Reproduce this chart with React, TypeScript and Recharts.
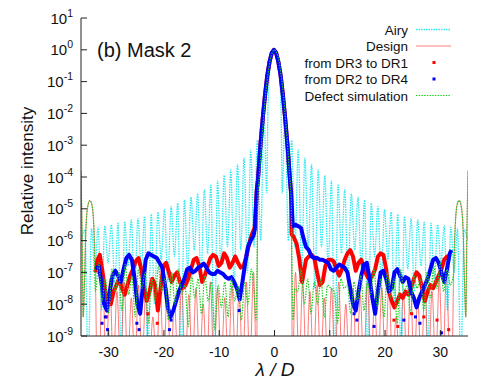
import { ComposedChart, Line, Scatter, XAxis, YAxis } from 'recharts';

const FONT = '"Liberation Sans", Arial, Helvetica, sans-serif';

const xTicks = [-30, -20, -10, 0, 10, 20, 30];
const yTicks = [1e-9, 1e-8, 1e-7, 1e-6, 1e-5, 1e-4, 1e-3, 1e-2, 1e-1, 1, 10];

const legendLabels = ['Airy', 'Design', 'from DR3 to DR1', 'from DR2 to DR4', 'Defect simulation'];

// all values below are [lambda/D, log10(relative intensity)]

// Airy pattern, x >= 0 (symmetric)
const airyHalf: [number, number][] = [
  [0, 0], [0.5, -0.2], [0.9, -0.8], [1.2, -2.0], [1.4, -4.5], [1.9, -1.9], [2.5, -6.0],
  [3.1, -2.85], [3.7, -6.2], [4.3, -3.15], [4.9, -7.0], [5.5, -3.4], [6.1, -6.3],
  [6.7, -3.6], [7.3, -7.5], [7.9, -3.78], [8.5, -6.2], [9.1, -3.95], [9.7, -6.8],
  [10.3, -4.12], [10.9, -10], [11.5, -4.25], [12.1, -6.4], [12.7, -4.4], [13.3, -7.2],
  [13.9, -4.52], [14.5, -6.3], [15.1, -4.63], [15.7, -6.9], [16.3, -4.72], [16.9, -10],
  [17.5, -4.82], [18.1, -6.5], [18.7, -4.93], [19.3, -7.3], [19.9, -5.02], [20.5, -6.6],
  [21.1, -5.1], [21.7, -8.0], [22.3, -5.17], [22.9, -10], [23.5, -5.24], [24.1, -6.9],
  [24.7, -5.3], [25.3, -7.6], [25.9, -5.35], [26.5, -6.8], [27.1, -5.4], [27.7, -10],
  [28.3, -5.45], [28.9, -7.3], [29.5, -5.5], [30.1, -6.7], [30.7, -5.54], [31.3, -8.2],
  [31.9, -5.58], [32.5, -7.0], [33.1, -5.62], [33.7, -10], [34.3, -5.66], [35, -6.0],
];

// Design PSF, x >= 0 (symmetric)
const designHalf: [number, number][] = [
  [0, 0], [0.4, -0.09], [0.8, -0.35], [1.2, -0.8], [1.6, -1.4], [2.0, -2.2], [2.4, -3.1],
  [2.7, -3.9], [3.0, -4.6], [3.25, -10], [3.8, -7.0], [4.45, -10], [5.1, -7.3], [5.75, -10],
  [6.4, -7.6], [7.05, -10], [7.7, -7.4], [8.35, -10], [9.0, -7.8], [9.65, -10], [10.3, -7.5],
  [10.95, -10], [11.6, -7.3], [12.25, -10], [12.9, -8.0], [13.55, -10], [14.2, -7.5],
  [14.85, -10], [15.5, -7.7], [16.15, -10], [16.8, -7.3], [17.45, -10], [18.1, -7.9],
  [18.75, -10], [19.4, -7.5], [20.05, -10], [20.7, -7.3], [21.35, -10], [22.0, -8.4],
  [22.65, -10], [23.3, -7.6], [23.95, -10], [24.6, -7.4], [25.25, -10], [25.9, -7.8],
  [26.55, -10], [27.2, -7.3], [27.85, -10], [28.5, -7.6], [29.15, -10], [29.8, -7.2],
  [30.45, -10], [31.1, -7.0], [31.75, -10], [32.1, -10], [32.4, -7.0], [32.7, -5.5],
  [33.0, -4.9], [33.4, -4.74], [33.8, -4.95], [34.1, -5.6], [34.4, -7.5], [34.6, -8.4],
  [34.8, -5.8], [35.0, -3.8],
];

// main lobe common to both measurements
const measuredCore: [number, number][] = [
  [-3.2, -4.4], [-3.0, -4.1], [-2.8, -3.6], [-2.5, -2.9], [-2.1, -2.1], [-1.7, -1.4],
  [-1.3, -0.8], [-0.9, -0.38], [-0.5, -0.1], [-0.1, 0], [0.3, -0.1], [0.7, -0.38],
  [1.1, -0.8], [1.5, -1.4], [1.9, -2.1], [2.3, -2.9], [2.6, -3.6], [2.8, -4.1], [3.0, -4.5],
];

const redLeft: [number, number][] = [
  [-32.4, -7.0], [-32.0, -6.6], [-31.6, -6.45], [-31.1, -7.0], [-30.6, -7.6], [-30.1, -7.9],
  [-29.6, -8.0], [-29.1, -7.6], [-28.6, -7.4], [-28.1, -7.2], [-27.6, -7.5], [-27.1, -7.7],
  [-26.6, -7.4], [-26.1, -7.1], [-25.6, -6.9], [-25.1, -6.65], [-24.6, -6.55], [-24.1, -6.9],
  [-23.6, -7.5], [-23.1, -7.9], [-22.6, -7.6], [-22.1, -7.2], [-21.6, -7.4], [-21.1, -8.2],
  [-20.6, -7.5], [-20.1, -6.8], [-19.6, -6.7], [-19.1, -7.0], [-18.6, -7.3], [-18.1, -7.1],
  [-17.6, -7.0], [-17.1, -7.3], [-16.6, -7.5], [-16.1, -7.4], [-15.6, -7.2], [-15.1, -6.9],
  [-14.6, -6.6], [-14.1, -6.55], [-13.6, -6.8], [-13.1, -7.3], [-12.6, -7.1], [-12.1, -6.8],
  [-11.6, -6.55], [-11.1, -6.45], [-10.6, -6.5], [-10.1, -6.8], [-9.6, -6.7], [-9.1, -6.4],
  [-8.6, -6.55], [-8.1, -6.85], [-7.6, -6.7], [-7.1, -6.5], [-6.6, -6.7], [-6.1, -6.85],
  [-5.6, -6.8], [-5.1, -6.5], [-4.6, -6.1], [-4.1, -5.8], [-3.6, -5.6],
];

const redRight: [number, number][] = [
  [3.1, -5.8], [3.5, -5.9], [4.0, -6.1], [4.5, -6.6], [5.0, -7.3], [5.3, -7.0], [5.7, -6.6],
  [6.2, -6.5], [6.7, -6.45], [7.2, -6.55], [7.7, -7.0], [8.2, -7.4], [8.7, -7.3], [9.2, -6.8],
  [9.7, -6.6], [10.2, -6.6], [10.7, -6.65], [11.2, -6.9], [11.7, -7.1], [12.2, -6.9],
  [12.7, -6.6], [13.2, -6.4], [13.7, -6.3], [14.2, -6.5], [14.7, -6.95], [15.2, -6.7],
  [15.7, -6.6], [16.2, -6.9], [16.7, -7.1], [17.2, -7.25], [17.7, -7.1], [18.2, -6.9],
  [18.7, -6.5], [19.2, -6.4], [19.7, -6.45], [20.2, -6.9], [20.7, -7.6], [21.2, -7.9],
  [21.7, -8.1], [22.2, -7.9], [22.7, -7.7], [23.2, -7.8], [23.7, -7.6], [24.2, -7.7],
  [24.7, -7.5], [25.2, -7.2], [25.7, -7.0], [26.2, -7.1], [26.7, -7.5], [27.2, -7.9],
  [27.7, -7.6], [28.2, -7.4], [28.7, -7.5], [29.2, -7.3], [29.7, -7.1], [30.2, -6.9],
  [30.7, -6.6], [31.2, -6.5], [31.7, -6.5],
];

const blueLeft: [number, number][] = [
  [-32.3, -6.9], [-31.8, -6.8], [-31.3, -7.3], [-30.8, -8.0], [-30.3, -8.2], [-29.8, -7.6],
  [-29.3, -7.1], [-28.8, -6.95], [-28.3, -7.1], [-27.8, -7.3], [-27.3, -6.9], [-26.8, -6.55],
  [-26.3, -6.45], [-25.8, -6.6], [-25.3, -7.2], [-24.8, -8.0], [-24.3, -8.3], [-23.8, -7.4],
  [-23.3, -6.6], [-22.8, -6.4], [-22.3, -6.45], [-21.8, -6.5], [-21.3, -6.55], [-20.8, -6.7],
  [-20.3, -6.85], [-19.8, -7.4], [-19.3, -8.1], [-18.8, -8.4], [-18.3, -8.2], [-17.8, -7.9],
  [-17.3, -7.6], [-16.8, -7.4], [-16.3, -7.2], [-15.8, -6.9], [-15.3, -6.85], [-14.8, -7.0],
  [-14.3, -6.95], [-13.8, -6.85], [-13.3, -6.8], [-12.8, -6.72], [-12.3, -6.85], [-11.8, -7.0],
  [-11.3, -7.05], [-10.8, -7.05], [-10.3, -6.95], [-9.8, -7.0], [-9.3, -7.05], [-8.8, -7.15],
  [-8.3, -7.2], [-7.8, -7.15], [-7.3, -7.3], [-6.8, -7.5], [-6.3, -7.85], [-5.8, -7.3],
  [-5.3, -6.7], [-4.8, -6.2], [-4.3, -6.0], [-3.8, -5.85], [-3.5, -5.6],
];

const blueRight: [number, number][] = [
  [3.3, -5.55], [3.8, -5.5], [4.3, -5.55], [4.8, -5.6], [5.2, -5.9], [5.7, -6.2], [6.2, -6.3],
  [6.7, -6.5], [7.2, -6.55], [7.7, -6.55], [8.2, -6.6], [8.7, -6.6], [9.2, -6.65], [9.7, -6.7],
  [10.2, -6.9], [10.7, -6.95], [11.2, -6.85], [11.7, -6.75], [12.2, -6.8], [12.7, -6.85],
  [13.2, -7.0], [13.7, -7.5], [14.2, -8.0], [14.7, -8.2], [15.2, -7.6], [15.7, -7.1],
  [16.2, -6.75], [16.7, -6.7], [17.2, -7.2], [17.7, -7.8], [18.2, -8.3], [18.7, -7.6],
  [19.2, -7.0], [19.7, -6.95], [20.2, -7.2], [20.7, -7.6], [21.2, -7.5], [21.7, -7.0],
  [22.2, -6.9], [22.7, -7.1], [23.2, -7.3], [23.7, -7.15], [24.2, -7.2], [24.7, -7.6],
  [25.2, -7.8], [25.7, -8.1], [26.2, -7.8], [26.7, -7.6], [27.2, -7.4], [27.7, -7.2],
  [28.2, -6.9], [28.7, -6.6], [29.2, -6.55], [29.7, -6.7], [30.2, -7.0], [30.7, -7.3],
  [31.2, -6.9], [31.7, -6.4], [32.0, -6.3],
];

const redStray: [number, number][] = [
  [-30.4, -8.4], [-22.9, -8.3], [-21.2, -8.6], [21.6, -8.5], [22.3, -8.7], [24.8, -8.3],
  [27.0, -8.4], [29.4, -8.5], [31.5, -8.8],
];

const blueStray: [number, number][] = [
  [-31.2, -8.6], [-30.6, -8.4], [-30.2, -8.8], [-24.9, -8.6], [-24.5, -8.8], [-19.0, -8.8],
  [-18.7, -8.5], [-6.4, -8.2], [14.4, -8.3], [14.9, -8.5], [18.0, -8.7], [23.4, -8.5],
  [25.5, -8.4], [26.3, -8.6], [30.2, -8.9],
];

const defectLeft: [number, number][] = [
  [-35.0, -3.8], [-34.8, -5.8], [-34.6, -8.4], [-34.4, -7.5], [-34.1, -5.6], [-33.8, -4.95],
  [-33.4, -4.74], [-33.0, -4.9], [-32.7, -5.5], [-32.4, -7.6], [-31.8, -6.7], [-31.2, -7.9],
  [-30.6, -7.2], [-30.0, -8.3], [-29.4, -6.9], [-28.8, -7.6], [-28.2, -7.0], [-27.6, -8.2],
  [-27.0, -6.75], [-26.4, -7.7], [-25.8, -7.1], [-25.2, -8.4], [-24.6, -6.9], [-24.0, -7.5],
  [-23.4, -7.0], [-22.8, -8.6], [-22.2, -7.2], [-21.6, -7.9], [-21.0, -6.8], [-20.4, -7.6],
  [-19.8, -7.2], [-19.2, -8.5], [-18.6, -7.0], [-18.0, -8.0], [-17.4, -6.9], [-16.8, -7.7],
  [-16.2, -7.4], [-15.6, -8.7], [-15.0, -7.1], [-14.4, -7.8], [-13.8, -7.2], [-13.2, -8.3],
  [-12.6, -7.1], [-12.0, -7.9], [-11.4, -7.3], [-10.8, -8.8], [-10.2, -7.4], [-9.6, -8.1],
  [-9.0, -7.3], [-8.4, -8.4], [-7.8, -7.2], [-7.2, -7.9], [-6.6, -7.4], [-6.0, -8.5],
  [-5.4, -7.3], [-4.8, -8.0], [-4.2, -6.9], [-3.7, -7.6], [-3.35, -8.5],
];

const defectRight: [number, number][] = [
  [3.35, -8.5], [3.7, -7.5], [4.2, -7.6], [4.8, -6.9], [5.4, -8.0], [6.0, -7.2], [6.6, -8.3],
  [7.2, -7.3], [7.8, -8.0], [8.4, -7.2], [9.0, -8.4], [9.6, -7.4], [10.2, -7.5], [10.8, -7.6],
  [11.4, -8.6], [12.0, -7.2], [12.6, -7.5], [13.2, -7.4], [13.8, -8.3], [14.4, -7.3],
  [15.0, -7.9], [15.6, -7.1], [16.2, -8.2], [16.8, -7.3], [17.4, -7.7], [18.0, -6.9],
  [18.6, -8.1], [19.2, -7.2], [19.8, -8.4], [20.4, -7.0], [21.0, -7.8], [21.6, -7.2],
  [22.2, -8.6], [22.8, -6.9], [23.4, -7.6], [24.0, -7.4], [24.6, -8.3], [25.2, -7.1],
  [25.8, -7.5], [26.4, -7.2], [27.0, -8.2], [27.6, -7.0], [28.2, -7.8], [28.8, -6.8],
  [29.4, -7.5], [30.0, -6.7], [30.6, -7.6], [31.2, -6.9], [31.8, -7.4], [32.4, -7.0],
  [32.7, -5.5], [33.0, -4.9], [33.4, -4.74], [33.8, -4.95], [34.1, -5.6], [34.4, -7.5],
  [34.6, -8.4], [34.8, -5.8], [35.0, -3.8],
];

type Pair = [number, number];
const mirror = (half: Pair[]): Pair[] => [
  ...half.filter(([x]) => x > 0).map(([x, l]) => [-x, l] as Pair).reverse(),
  ...half,
];
const toPts = (pairs: Pair[]) => pairs.map(([x, l]) => ({ x, y: Math.pow(10, l) }));

const airyData = toPts(mirror(airyHalf));
const designData = toPts(mirror(designHalf));
const redData = toPts([...redLeft, ...measuredCore, ...redRight]);
const blueData = toPts([...blueLeft, ...measuredCore, ...blueRight]);
const defectCore = designHalf.filter(([x]) => x <= 3.0);
const defectData = toPts([...defectLeft, ...mirror(defectCore), ...defectRight]);
const redStrayData = toPts(redStray);
const blueStrayData = toPts(blueStray);

const COLORS = {
  airy: '#2ee8f0',
  design: '#ff3a3a',
  red: '#ff0000',
  blue: '#0000ff',
  defect: '#1fcc1f',
};

function BottomTick({ x, y, payload }: any) {
  return (
    <g>
      <line x1={x} x2={x} y1={y} y2={y - 6} stroke="#222" />
      <text x={x} y={y + 21} textAnchor="middle" fontSize={14} fontFamily={FONT} fill="#111">
        {payload.value}
      </text>
    </g>
  );
}

function TopTick({ x, y }: any) {
  return <line x1={x} x2={x} y1={y} y2={y + 6} stroke="#222" />;
}

function LeftTick({ x, y, payload }: any) {
  const exp = Math.round(Math.log10(payload.value));
  return (
    <g>
      <line x1={x} x2={x + 6} y1={y} y2={y} stroke="#222" />
      <text x={x - 8} y={y + 5.5} textAnchor="end" fontSize={15} fontFamily={FONT} fill="#111">
        10<tspan dy={-7} fontSize={10.5}>{exp}</tspan>
      </text>
    </g>
  );
}

function RightTick({ x, y }: any) {
  return <line x1={x} x2={x - 6} y1={y} y2={y} stroke="#222" />;
}

function Square({ cx, cy, fill }: any) {
  if (cx === undefined || cy === undefined) return null;
  return <rect x={cx - 1.5} y={cy - 1.5} width={3} height={3} fill={fill} />;
}

export default function App() {
  const rowY = [29.5, 46, 62.5, 79, 95.5];
  return (
    <div style={{ position: 'absolute', left: 0, top: 0, width: 491, height: 382, background: '#fff' }}>
      <ComposedChart width={491} height={382} margin={{ top: 18, right: 23, bottom: 0, left: 0 }}>
        <XAxis
          dataKey="x"
          type="number"
          domain={[-35, 35]}
          ticks={xTicks}
          interval={0}
          allowDataOverflow
          height={46}
          tickSize={0}
          tickMargin={0}
          tickLine={false}
          tick={<BottomTick />}
          axisLine={{ stroke: '#222' }}
        />
        <XAxis
          xAxisId="top"
          orientation="top"
          dataKey="x"
          type="number"
          domain={[-35, 35]}
          ticks={xTicks}
          interval={0}
          allowDataOverflow
          height={0}
          tickSize={0}
          tickMargin={0}
          tickLine={false}
          tick={<TopTick />}
          axisLine={{ stroke: '#222' }}
        />
        <YAxis
          type="number"
          scale="log"
          domain={[1e-9, 10]}
          ticks={yTicks}
          interval={0}
          allowDataOverflow
          width={81}
          tickSize={0}
          tickMargin={0}
          tickLine={false}
          tick={<LeftTick />}
          axisLine={{ stroke: '#222' }}
        />
        <YAxis
          yAxisId="right"
          orientation="right"
          type="number"
          scale="log"
          domain={[1e-9, 10]}
          ticks={yTicks}
          interval={0}
          allowDataOverflow
          width={0}
          tickSize={0}
          tickMargin={0}
          tickLine={false}
          tick={<RightTick />}
          axisLine={{ stroke: '#222' }}
        />
        <Line
          data={airyData}
          dataKey="y"
          type="monotone"
          stroke={COLORS.airy}
          strokeWidth={1.3}
          strokeDasharray="1.5 1"
          dot={false}
          isAnimationActive={false}
        />
        <Line
          data={designData}
          dataKey="y"
          type="monotone"
          stroke={COLORS.design}
          strokeOpacity={0.75}
          strokeWidth={0.9}
          dot={false}
          isAnimationActive={false}
        />
        <Line
          data={redData}
          dataKey="y"
          type="linear"
          stroke={COLORS.red}
          strokeWidth={4}
          strokeLinejoin="round"
          dot={false}
          isAnimationActive={false}
        />
        <Scatter data={redStrayData} dataKey="y" fill={COLORS.red} shape={<Square />} isAnimationActive={false} />
        <Line
          data={blueData}
          dataKey="y"
          type="linear"
          stroke={COLORS.blue}
          strokeWidth={4}
          strokeLinejoin="round"
          dot={false}
          isAnimationActive={false}
        />
        <Scatter data={blueStrayData} dataKey="y" fill={COLORS.blue} shape={<Square />} isAnimationActive={false} />
        <Line
          data={defectData}
          dataKey="y"
          type="monotone"
          stroke={COLORS.defect}
          strokeWidth={1.2}
          strokeDasharray="1.5 1.2"
          dot={false}
          isAnimationActive={false}
        />
      </ComposedChart>

      <svg
        width={491}
        height={382}
        style={{ position: 'absolute', left: 0, top: 0, pointerEvents: 'none' }}
        fontFamily={FONT}
      >
        <text x={97} y={57} fontSize={20} fill="#111">(b) Mask 2</text>
        <text
          x={0}
          y={0}
          transform="translate(33 171) rotate(-90)"
          textAnchor="middle"
          fontSize={17}
          fill="#111"
        >
          Relative intensity
        </text>
        <text x={275} y={376} textAnchor="middle" fontSize={19} fontStyle="italic" fill="#111">
          λ / D
        </text>

        {legendLabels.map((label, i) => (
          <text key={label} x={408} y={rowY[i] + 5} textAnchor="end" fontSize={13.5} fill="#111">
            {label}
          </text>
        ))}
        <line x1={416} x2={451} y1={rowY[0]} y2={rowY[0]} stroke={COLORS.airy} strokeWidth={1.3} strokeDasharray="1.5 1" />
        <line x1={416} x2={451} y1={rowY[1]} y2={rowY[1]} stroke={COLORS.design} strokeOpacity={0.75} strokeWidth={0.9} />
        <rect x={432.5} y={rowY[2] - 1.5} width={3} height={3} fill={COLORS.red} />
        <rect x={432.5} y={rowY[3] - 1.5} width={3} height={3} fill={COLORS.blue} />
        <line x1={416} x2={451} y1={rowY[4]} y2={rowY[4]} stroke={COLORS.defect} strokeWidth={1.2} strokeDasharray="1.5 1.2" />
      </svg>
    </div>
  );
}
